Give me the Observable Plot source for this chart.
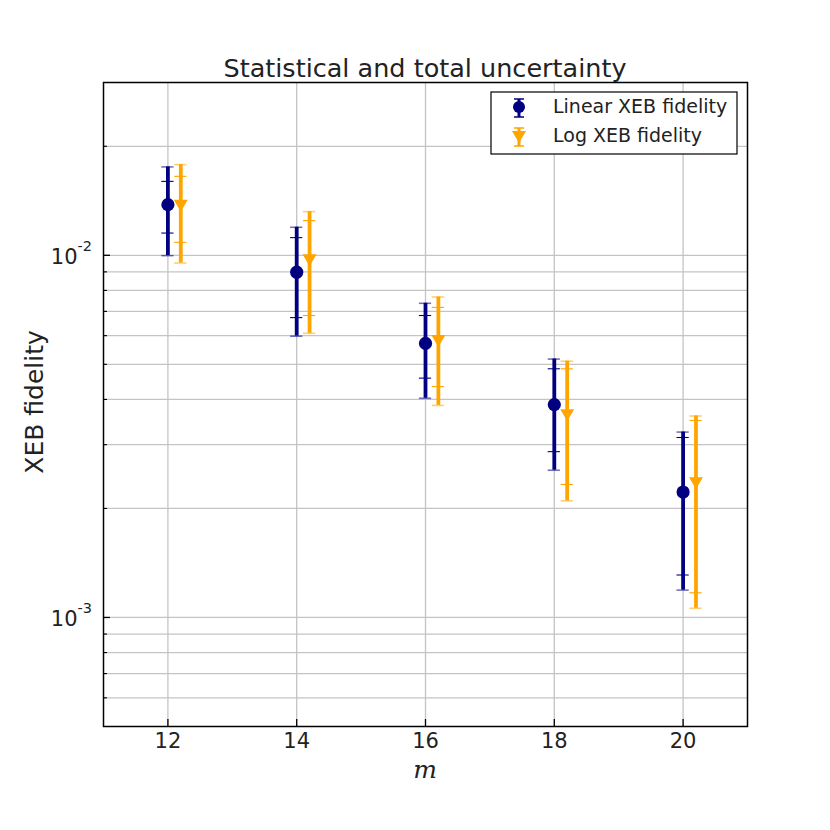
<!DOCTYPE html>
<html>
<head>
<meta charset="utf-8">
<script src="https://cdn.jsdelivr.net/npm/d3@7"></script>
<script src="https://cdn.jsdelivr.net/npm/@observablehq/plot@0.6"></script>
<style>
  body { margin: 0; background: white; }
  #chart { width: 830px; height: 830px; }
</style>
</head>
<body>
<div id="chart"></div>
<script>
const title = "Statistical and total uncertainty";
const xLabel = "m";
const yLabel = "XEB fidelity";
const seriesNames = ["Linear XEB fidelity", "Log XEB fidelity"];
const seriesColors = ["#000080", "#FFA500"];

const ms = [12, 14, 16, 18, 20];
const linVal    = [0.0138, 0.00898, 0.00571, 0.00387, 0.00222];
const linStatLo = [0.01152, 0.00673, 0.00458, 0.00287, 0.00131];
const linStatHi = [0.0160, 0.01119, 0.00682, 0.00486, 0.00314];
const linTotLo  = [0.00998, 0.00598, 0.00403, 0.00255, 0.00119];
const linTotHi  = [0.01754, 0.01195, 0.00737, 0.00517, 0.00325];

const logVal    = [0.0137, 0.00969, 0.00580, 0.00362, 0.00235];
const logStatLo = [0.01086, 0.00682, 0.00434, 0.00233, 0.00117];
const logStatHi = [0.01652, 0.01247, 0.00718, 0.00486, 0.00350];
const logTotLo  = [0.00952, 0.00609, 0.00385, 0.00210, 0.00106];
const logTotHi  = [0.0178, 0.0132, 0.00767, 0.00510, 0.00360];

const xTicks = [12, 14, 16, 18, 20];
const yMajor = [0.001, 0.01];
const yMajorExp = ["-3", "-2"];
const yMinor = [0.0006, 0.0007, 0.0008, 0.0009, 0.002, 0.003, 0.004, 0.005, 0.006, 0.007, 0.008, 0.009, 0.02];

const shifts = [0, 0.2];
function rows(k, val, sLo, sHi, tLo, tHi) {
  return ms.map((m, i) => ({s: k, x: m + shifts[k], v: val[i], sLo: sLo[i], sHi: sHi[i], tLo: tLo[i], tHi: tHi[i]}));
}
const lin = rows(0, linVal, linStatLo, linStatHi, linTotLo, linTotHi);
const lg = rows(1, logVal, logStatLo, logStatHi, logTotLo, logTotHi);

const triangleDown = {
  draw(ctx, size) {
    const r = Math.sqrt(size / Math.PI);
    ctx.moveTo(-r, -r * 0.85);
    ctx.lineTo(r, -r * 0.85);
    ctx.lineTo(0, r * 0.85);
    ctx.closePath();
  }
};

const W = 830, H = 830, ML = 103, MR = 83, MT = 82, MB = 104;
const FW = W - ML - MR, FH = H - MT - MB;
const capHalf = 0.095;
const gridColor = "#c4c4c4";
const FONT = "DejaVu Sans, sans-serif";

function seriesMarks(data, k) {
  const c = seriesColors[k];
  return [
    Plot.ruleX(data, {x: "x", y1: "tLo", y2: "tHi", stroke: c, strokeWidth: 3.8}),
    Plot.ruleY(data, {y: "tHi", x1: d => d.x - capHalf, x2: d => d.x + capHalf, stroke: c, strokeWidth: 1.6, strokeOpacity: 0.55}),
    Plot.ruleY(data, {y: "tLo", x1: d => d.x - capHalf, x2: d => d.x + capHalf, stroke: c, strokeWidth: 1.6, strokeOpacity: 0.55}),
    Plot.ruleY(data, {y: "sHi", x1: d => d.x - capHalf, x2: d => d.x + capHalf, stroke: c, strokeWidth: 1.1}),
    Plot.ruleY(data, {y: "sLo", x1: d => d.x - capHalf, x2: d => d.x + capHalf, stroke: c, strokeWidth: 1.1}),
    Plot.dot(data, {x: "x", y: "v", r: k === 0 ? 6.6 : 7, symbol: k === 0 ? "circle" : triangleDown, fill: c, stroke: "none"})
  ];
}

const plot = Plot.plot({
  width: W, height: H,
  marginLeft: ML, marginRight: MR, marginTop: MT, marginBottom: MB,
  style: {fontFamily: FONT, background: "white"},
  x: {domain: [11, 21], label: null, axis: null},
  y: {type: "log", domain: [0.0005, 0.03], label: null, axis: null},
  marks: [
    Plot.gridY(yMinor.concat(yMajor), {stroke: gridColor, strokeOpacity: 1, strokeWidth: 1.3}),
    Plot.gridX(xTicks, {stroke: gridColor, strokeOpacity: 1, strokeWidth: 1.3}),
    Plot.text(xTicks, {x: d => d, text: d => String(d), frameAnchor: "bottom", lineAnchor: "top", dy: 7, fontSize: 21, fill: "#222"}),
    Plot.tickY(yMajor, {y: d => d, insetRight: FW - 7, stroke: "black", strokeWidth: 1.3}),
    Plot.tickY(yMinor, {y: d => d, insetRight: FW - 4, stroke: "black", strokeWidth: 1.1}),
    Plot.tickX(xTicks, {x: d => d, insetTop: FH - 7, stroke: "black", strokeWidth: 1.3}),
    Plot.text(yMajor, {y: d => d, text: () => "10", frameAnchor: "left", textAnchor: "end", dx: -26, dy: 2, fontSize: 21, fill: "#222"}),
    Plot.text(yMajor, {y: d => d, text: (d, i) => yMajorExp[i], frameAnchor: "left", textAnchor: "start", dx: -26, dy: -9, fontSize: 14.5, fill: "#222"}),
    ...seriesMarks(lin, 0),
    ...seriesMarks(lg, 1),
    Plot.frame({stroke: "black", strokeWidth: 1.5})
  ]
});

const svg = d3.select(plot);
// title
svg.append("text").attr("x", ML + FW / 2).attr("y", 77).attr("text-anchor", "middle")
  .attr("font-size", 25.5).attr("fill", "#222").attr("font-family", FONT).text(title);
// x label
svg.append("text").attr("x", ML + FW / 2).attr("y", 778).attr("text-anchor", "middle")
  .attr("font-size", 25).attr("font-style", "italic").attr("fill", "#222").attr("font-family", "DejaVu Serif, serif").text(xLabel);
// y label
svg.append("text").attr("transform", `translate(43,${MT + FH / 2 - 2}) rotate(-90)`).attr("text-anchor", "middle")
  .attr("font-size", 25).attr("fill", "#222").attr("font-family", FONT).text(yLabel);

// legend
const lgG = svg.append("g").attr("transform", "translate(491,92)").attr("font-family", FONT);
lgG.append("rect").attr("width", 246).attr("height", 62).attr("fill", "white").attr("stroke", "black").attr("stroke-width", 1.2);
seriesNames.forEach((name, k) => {
  const cy = 15 + k * 29;
  const c = seriesColors[k];
  const g = lgG.append("g").attr("transform", `translate(28,${cy})`);
  g.append("line").attr("y1", -8).attr("y2", 10).attr("stroke", c).attr("stroke-width", 3);
  g.append("line").attr("x1", -5).attr("x2", 5).attr("y1", -8).attr("y2", -8).attr("stroke", c).attr("stroke-width", 1.5);
  g.append("line").attr("x1", -5).attr("x2", 5).attr("y1", 10).attr("y2", 10).attr("stroke", c).attr("stroke-width", 1.5);
  if (k === 0) g.append("circle").attr("r", 6).attr("fill", c);
  else g.append("path").attr("d", "M-7,-5L7,-5L0,7Z").attr("fill", c);
  lgG.append("text").attr("x", 62).attr("y", cy + 6).attr("text-anchor", "start")
    .attr("font-size", 19).attr("fill", "#222").text(name);
});

document.getElementById("chart").appendChild(plot);
</script>
</body>
</html>
